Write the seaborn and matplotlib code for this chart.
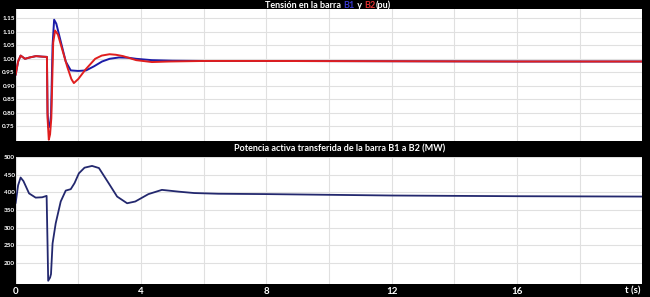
import matplotlib
matplotlib.use("Agg")
import matplotlib.pyplot as plt
import seaborn as sns
import pandas as pd

# ---- data ----
t_b1 = [0, 0.08, 0.16, 0.3, 0.45, 0.65, 0.85, 1.0, 1.02, 1.05, 1.1, 1.13, 1.18, 1.23, 1.3, 1.45, 1.6, 1.76,
        2.0, 2.25, 2.5, 2.76, 3.0, 3.3, 3.6, 3.85, 4.35, 5.0, 6.0, 8, 12, 16, 20]
v_b1 = [0.94, 0.99, 1.012, 1.0, 1.005, 1.01, 1.008, 1.007, 0.80, 0.745, 0.76, 0.79, 1.05, 1.145, 1.13, 1.06,
        0.99, 0.957, 0.955, 0.957, 0.972, 0.99, 1.0, 1.005, 1.004, 1.0, 0.995, 0.993, 0.992, 0.992, 0.991, 0.99, 0.99]

t_b2 = [0, 0.08, 0.16, 0.3, 0.45, 0.65, 0.85, 1.0, 1.02, 1.06, 1.1, 1.14, 1.2, 1.26, 1.35, 1.5, 1.65, 1.78,
        1.86, 2.0, 2.23, 2.54, 2.75, 3.0, 3.2, 3.43, 3.85, 4.35, 4.9, 6, 8, 12, 16, 20]
v_b2 = [0.94, 0.99, 1.012, 1.0, 1.005, 1.01, 1.008, 1.007, 0.78, 0.70, 0.72, 0.78, 1.06, 1.105, 1.09, 1.03,
        0.97, 0.925, 0.91, 0.925, 0.96, 1.0, 1.012, 1.017, 1.015, 1.01, 0.995, 0.988, 0.99, 0.992, 0.992, 0.991,
        0.99, 0.99]

t_p = [0, 0.08, 0.16, 0.25, 0.43, 0.64, 0.85, 0.99, 1.02, 1.04, 1.1, 1.13, 1.18, 1.28, 1.44, 1.6, 1.76, 1.88,
       2.02, 2.2, 2.44, 2.66, 2.97, 3.24, 3.56, 3.82, 4.24, 4.67, 5.2, 5.7, 6.47, 8, 10, 12, 16, 20]
p_mw = [369, 420, 442, 432, 397, 385, 386, 390, 250, 149, 158, 168, 255, 312, 374, 405, 409, 426, 454, 470,
        475, 469, 426, 388, 369, 374, 395, 407, 402, 398, 396, 395, 393, 391, 389, 388]

v_ticks = [0.75, 0.80, 0.85, 0.90, 0.95, 1.00, 1.05, 1.10, 1.15]
p_ticks = [200, 250, 300, 350, 400, 450, 500]
x_ticks = [0, 4, 8, 12, 16]

title_top = ["Tensión en la barra ", "B1", " y ", "B2", "(pu)"]
title_bottom = "Potencia activa transferida de la barra B1 a B2 (MW)"

# ---- figure ----
sns.set_theme(style="whitegrid")
plt.rcParams['font.family'] = ['Lato', 'DejaVu Sans']

BLUE = "#1c1ca8"
RED = "#e01e1e"
NAVY = "#23286e"
GRID = "#e0e0e0"

fig = plt.figure(figsize=(6.5, 2.97), dpi=100, facecolor="black")
ax1 = fig.add_axes([0.024, 0.525, 0.964, 0.445])
ax2 = fig.add_axes([0.024, 0.044, 0.964, 0.427])

df_b1 = pd.DataFrame({"t": t_b1, "v": v_b1})
df_b2 = pd.DataFrame({"t": t_b2, "v": v_b2})
df_p = pd.DataFrame({"t": t_p, "p": p_mw})

sns.lineplot(data=df_b1, x="t", y="v", ax=ax1, color=BLUE, lw=1.4, sort=False)
sns.lineplot(data=df_b2, x="t", y="v", ax=ax1, color=RED, lw=1.4, sort=False)
sns.lineplot(data=df_p, x="t", y="p", ax=ax2, color=NAVY, lw=1.3, sort=False)

for ax in (ax1, ax2):
    ax.set_facecolor("white")
    ax.set_xlim(0, 20)
    ax.set_xticks(range(0, 21, 2))
    ax.grid(True, color=GRID, lw=0.8)
    ax.set_xlabel("")
    ax.set_ylabel("")
    for s in ax.spines.values():
        s.set_visible(False)
    ax.tick_params(axis="both", length=0, pad=0.5, labelcolor="white", labelsize=4.6)

ax1.set_ylim(0.695, 1.185)
ax1.set_yticks(v_ticks)
ax1.set_yticklabels([f"{v:.2f}" for v in v_ticks], fontweight="bold")
ax1.set_xticklabels([])

ax2.set_ylim(140, 500)
ax2.set_yticks(p_ticks)
ax2.set_yticklabels([str(v) for v in p_ticks], fontweight="bold")
ax2.set_xticklabels([str(v) if v in x_ticks else "" for v in range(0, 21, 2)],
                    fontweight="bold", fontsize=7)
ax2.tick_params(axis="x", pad=2)

# multi-coloured top title
colors = ["white", "#3a3ad0", "white", "#e03030", "white"]
prev = fig.text(0.408, 0.983, title_top[0], color=colors[0], fontsize=6.5, fontweight="bold",
                ha="left", va="center")
for txt, c in zip(title_top[1:], colors[1:]):
    prev = ax1.annotate(txt, xy=(1, 0.5), xycoords=prev, color=c, fontsize=6.5, fontweight="bold",
                        ha="left", va="center")

fig.text(0.523, 0.499, title_bottom, color="white", fontsize=6.5, fontweight="bold",
         ha="center", va="center")
fig.text(0.985, 0.022, "t (s)", color="white", fontsize=7, fontweight="bold", ha="right", va="center")

fig.savefig("out.png", dpi=100, facecolor="black")
